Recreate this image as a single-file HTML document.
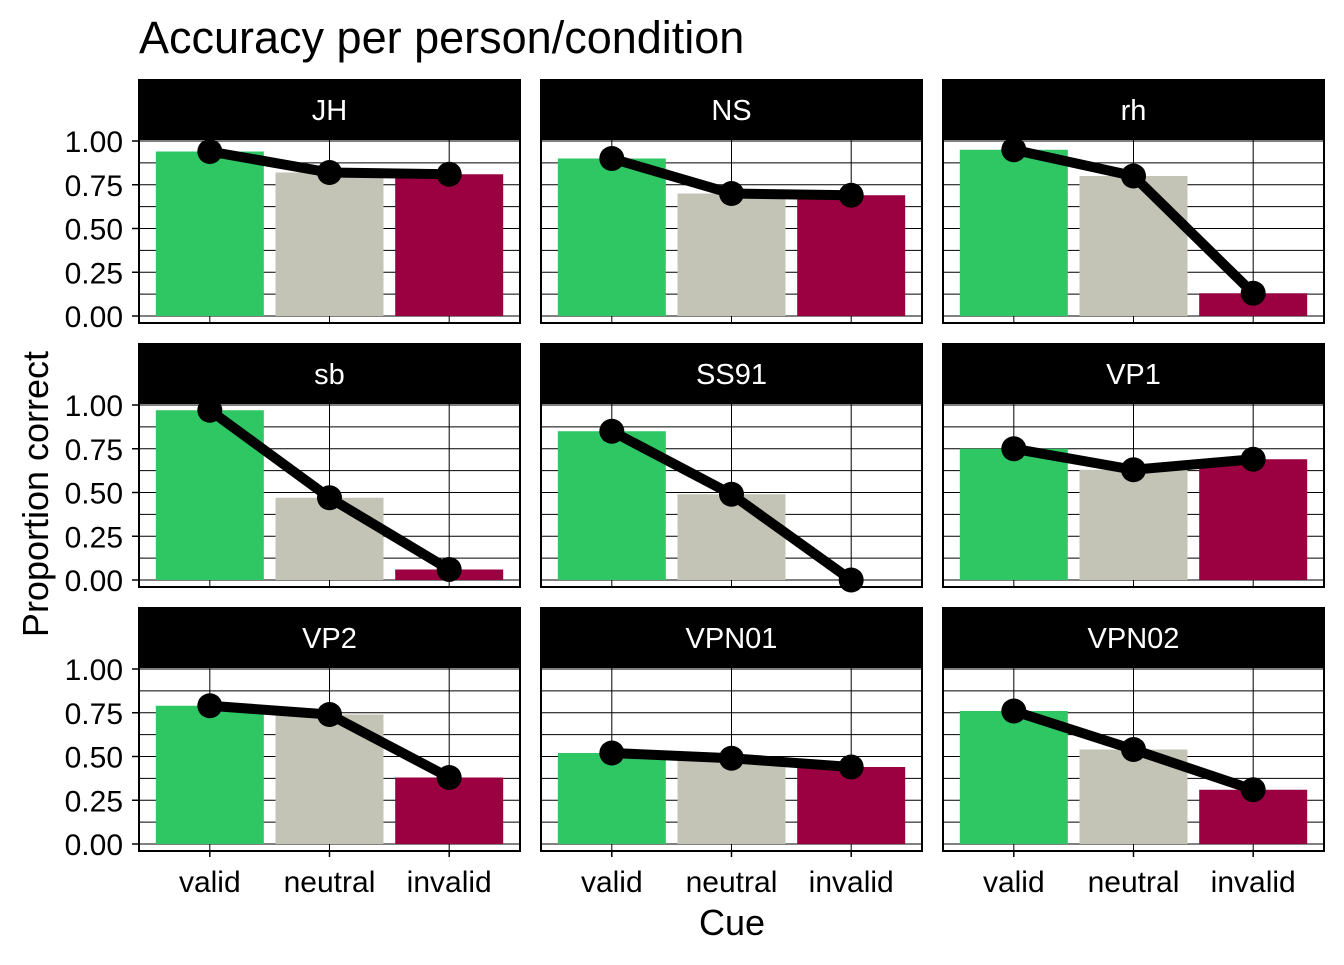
<!DOCTYPE html>
<html><head><meta charset="utf-8"><style>
body{margin:0;background:#fff}
svg text{font-family:"Liberation Sans",Arial,sans-serif}
</style></head><body>
<svg id="c" width="1344" height="960" xmlns="http://www.w3.org/2000/svg">
<text x="139" y="53" font-size="45" fill="#000">Accuracy per person/condition</text>
<text x="732" y="935" font-size="36" text-anchor="middle">Cue</text>
<text transform="translate(48,494) rotate(-90)" font-size="36" text-anchor="middle">Proportion correct</text>
</svg>
<script>
const persons=["JH","NS","rh","sb","SS91","VP1","VP2","VPN01","VPN02"];
const cues=["valid","neutral","invalid"];
const validVals=[0.94,0.90,0.95,0.97,0.85,0.75,0.79,0.52,0.76];
const neutralVals=[0.82,0.70,0.80,0.47,0.49,0.63,0.74,0.49,0.54];
const invalidVals=[0.81,0.69,0.13,0.06,0.00,0.69,0.38,0.44,0.31];
const yTicks=[0,0.25,0.5,0.75,1];
const yTickLabels=["0.00","0.25","0.50","0.75","1.00"];
const colors=["#2fc664","#c4c4b6","#9b0041"];
const svg=document.getElementById('c');
const NS='http://www.w3.org/2000/svg';
function mk(t,a,p){const e=document.createElementNS(NS,t);for(const k in a)e.setAttribute(k,a[k]);(p||svg).appendChild(e);return e;}
const colX=[138,540,942], panelW=383;
const series=[validVals,neutralVals,invalidVals];
persons.forEach((p,i)=>{
  const r=Math.floor(i/3), c=i%3;
  const x0=colX[c], top=140+264*r, stripTop=79+264*r;
  const y=v=>316+264*r-175*v;
  const cx=k=>x0+panelW*((k+1)-0.4)/3.2;
  const g=mk('g',{});
  
  
  const strip=mk('rect',{x:x0,y:stripTop,width:panelW,height:top-stripTop-1,fill:'#000'},g);
  
  
  const st=mk('text',{x:x0+panelW/2,y:stripTop+41,'font-size':29,fill:'#fff','text-anchor':'middle'},g);
  st.textContent=p;
  
  
  const bottom=top+183;
  for(let v=0;v<=1.0001;v+=0.125){mk('line',{x1:x0,x2:x0+panelW,y1:y(v),y2:y(v),stroke:'#000','stroke-width':1},g);}
  cues.forEach((q,k)=>mk('line',{x1:cx(k),x2:cx(k),y1:top,y2:bottom,stroke:'#000','stroke-width':1},g));
  cues.forEach((q,k)=>{
    const v=series[k][i];
    const b=mk('rect',{x:cx(k)-54,y:y(v),width:108,height:y(0)-y(v),fill:colors[k]},g);
    
    
  });
  const pts=cues.map((q,k)=>cx(k)+','+y(series[k][i])).join(' ');
  const ln=mk('polyline',{points:pts,fill:'none',stroke:'#000','stroke-width':10},g);
  
  
  cues.forEach((q,k)=>{
    const d=mk('circle',{cx:cx(k),cy:y(series[k][i]),r:12.5,fill:'#000'},g);
    
    
  });
  mk('rect',{x:x0+1,y:top-1,width:panelW-2,height:bottom-top+1,fill:'none',stroke:'#000','stroke-width':2},g);
  if(c===0){yTicks.forEach((v,j)=>{
    mk('line',{x1:x0-6,x2:x0,y1:y(v),y2:y(v),stroke:'#000','stroke-width':1.5});
    const t=mk('text',{x:x0-15,y:y(v)+11,'font-size':30,'text-anchor':'end'});
    t.textContent=yTickLabels[j];
    
    
  });}
  if(r===2){cues.forEach((q,k)=>{
    mk('line',{x1:cx(k),x2:cx(k),y1:bottom,y2:bottom+6,stroke:'#000','stroke-width':1.5});
    const t=mk('text',{x:cx(k),y:bottom+41,'font-size':30,'text-anchor':'middle'});
    t.textContent=q;
    
    
  });}
});
</script>
</body></html>
